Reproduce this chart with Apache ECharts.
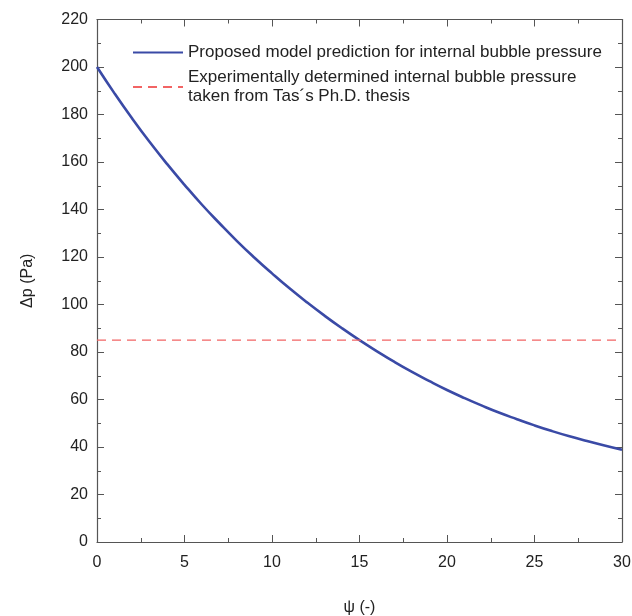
<!DOCTYPE html>
<html>
<head>
<meta charset="utf-8">
<script src="https://cdn.jsdelivr.net/npm/echarts@6/dist/echarts.min.js"></script>
<style>
html,body{margin:0;padding:0;background:#fff;}
#chart{width:632px;height:616px;}
</style>
</head>
<body>
<div id="chart"></div>
<script>
var psiValues = [0,1,2,3,4,5,6,7,8,9,10,11,12,13,14,15,16,17,18,19,20,21,22,23,24,25,26,27,28,29,30];
var modelPressure = [200,188.9,178.4,168.5,159.2,150.4,142.0,134.2,126.7,119.7,113.1,106.8,100.9,95.3,90.0,85.0,80.3,75.8,71.6,67.7,64.0,60.6,57.4,54.4,51.7,49.1,46.7,44.5,42.5,40.6,38.8];
var expPsi = [0,30];
var expPressure = [85,85];
var seriesNames = ['Proposed model prediction for internal bubble pressure',
  'Experimentally determined internal bubble pressure\ntaken from Tas\u00b4s Ph.D. thesis'];

var chart = echarts.init(document.getElementById('chart'));
var axisColor = '#555';
var fontFam = 'Liberation Sans, Arial, sans-serif';
var labelStyle = {color:'#222', fontSize:16, fontFamily:fontFam};
function pairs(xs, ys){ return xs.map(function(x,i){return [x, ys[i]];}); }
function frameAxis(extra){
  return Object.assign({
    axisLine:{show:true, onZero:false, lineStyle:{color:axisColor, width:1.2}},
    axisTick:{show:true, inside:true, length:7, lineStyle:{color:axisColor}},
    minorTick:{show:true, splitNumber:2, length:4, lineStyle:{color:axisColor}},
    splitLine:{show:false}
  }, extra);
}

chart.setOption({
  animation:false,
  backgroundColor:'#fff',
  grid:{left:97, right:10, top:19.5, bottom:74, containLabel:false, outerBoundsMode:'none'},
  legend:{
    orient:'vertical', left:127, top:38, itemWidth:50, itemHeight:14, itemGap:6,
    textStyle:{color:'#222', fontSize:17, fontFamily:fontFam, lineHeight:19},
    itemStyle:{opacity:0},
    data:seriesNames
  },
  xAxis:[frameAxis({
    type:'value', min:0, max:30, interval:5, position:'bottom',
    name:'\u03c8 (-)', nameLocation:'middle', nameGap:58,
    nameTextStyle:labelStyle,
    axisLabel:Object.assign({margin:13}, labelStyle)
  }), frameAxis({
    type:'value', min:0, max:30, interval:5, position:'top',
    axisLabel:{show:false}
  })],
  yAxis:[frameAxis({
    type:'value', min:0, max:220, interval:20, position:'left',
    name:'\u0394p (Pa)', nameLocation:'middle', nameGap:61,
    nameTextStyle:labelStyle,
    axisLabel:Object.assign({margin:9}, labelStyle)
  }), frameAxis({
    type:'value', min:0, max:220, interval:20, position:'right',
    axisLabel:{show:false}
  })],
  series:[{
    name:seriesNames[0], type:'line', smooth:true, symbol:'none',
    data:pairs(psiValues, modelPressure),
    lineStyle:{color:'#3a4aa6', width:2.6}, itemStyle:{color:'#3a4aa6'}
  },{
    name:seriesNames[1], type:'line', symbol:'none',
    data:pairs(expPsi, expPressure),
    lineStyle:{color:'#f26464', width:1.4, type:[9,6]}, itemStyle:{color:'#f26464'}
  }]
});
</script>
</body>
</html>
